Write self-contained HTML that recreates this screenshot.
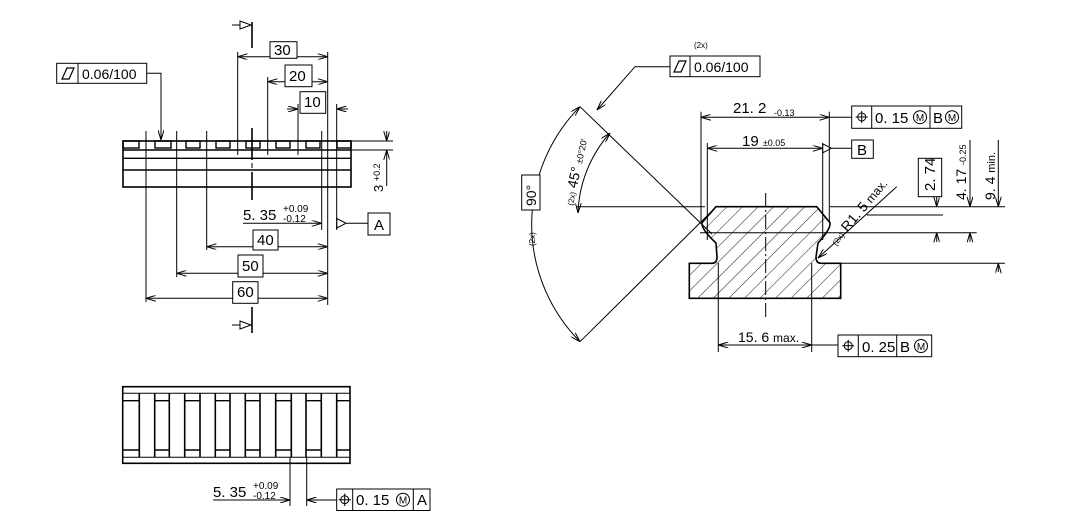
<!DOCTYPE html>
<html><head><meta charset="utf-8"><style>
html,body{margin:0;padding:0;background:#fff;}
svg{display:block;font-family:"Liberation Sans",sans-serif;}
</style></head><body>
<svg width="1065" height="530" viewBox="0 0 1065 530" xmlns="http://www.w3.org/2000/svg">
<defs>
<marker id="a" viewBox="0 0 10 6" refX="10" refY="3" markerWidth="10" markerHeight="6" orient="auto-start-reverse" markerUnits="userSpaceOnUse"><path d="M0,0 L10,3 L0,6" fill="none" stroke="#000" stroke-width="1"/></marker>
<pattern id="h" patternUnits="userSpaceOnUse" width="11" height="11" patternTransform="rotate(45)"><line x1="0" y1="0" x2="0" y2="11" stroke="#000" stroke-width="0.9"/></pattern>
</defs>
<g stroke="#000" fill="none" stroke-width="1">
<!-- LEFT TOP VIEW -->
<rect x="123" y="141" width="228" height="46" stroke-width="1.6"/>
<line x1="123" y1="150" x2="351" y2="150" stroke-width="1.4"/>
<line x1="123" y1="158.3" x2="351" y2="158.3" stroke-width="1.4"/>
<line x1="123" y1="170" x2="351" y2="170" stroke-width="1.4"/>
<g stroke-width="1.4">
<rect x="123" y="141" width="16" height="7"/><rect x="155" y="141" width="16" height="7"/><rect x="186" y="141" width="14" height="7"/><rect x="216" y="141" width="14" height="7"/><rect x="246" y="141" width="14" height="7"/><rect x="276" y="141" width="14" height="7"/><rect x="306" y="141" width="14" height="7"/><rect x="337" y="141" width="14" height="7"/>
</g>
<line x1="252" y1="22" x2="252" y2="48" stroke-width="1.6"/>
<line x1="252" y1="128" x2="252" y2="160" stroke-width="1.6"/>
<line x1="252" y1="163" x2="252" y2="168"/>
<line x1="252" y1="172" x2="252" y2="200" stroke-width="1.6"/>
<line x1="252" y1="307" x2="252" y2="333" stroke-width="1.6"/>
<path d="M232,25 L240,25 M240,21 L251,25 L240,29 Z"/>
<path d="M232,325 L240,325 M240,321 L251,325 L240,329 Z"/>
<line x1="146" y1="131" x2="146" y2="302"/>
<line x1="176.7" y1="131" x2="176.7" y2="277"/>
<line x1="206.7" y1="131" x2="206.7" y2="250"/>
<line x1="237.7" y1="52" x2="237.7" y2="155"/>
<line x1="267.7" y1="77" x2="267.7" y2="155"/>
<line x1="298" y1="104" x2="298" y2="155"/>
<line x1="327.7" y1="52" x2="327.7" y2="305"/>
<line x1="321.7" y1="131" x2="321.7" y2="230"/>
<line x1="336.7" y1="104" x2="336.7" y2="230"/>
<line x1="237.7" y1="56.7" x2="327.7" y2="56.7" marker-start="url(#a)" marker-end="url(#a)"/>
<line x1="267.7" y1="81.7" x2="327.7" y2="81.7" marker-start="url(#a)" marker-end="url(#a)"/>
<line x1="287" y1="109" x2="298" y2="109" marker-end="url(#a)"/>
<line x1="348" y1="109" x2="336.7" y2="109" marker-end="url(#a)"/>
<line x1="206.7" y1="246.7" x2="327.7" y2="246.7" marker-start="url(#a)" marker-end="url(#a)"/>
<line x1="176.7" y1="273.3" x2="327.7" y2="273.3" marker-start="url(#a)" marker-end="url(#a)"/>
<line x1="146" y1="298.3" x2="327.7" y2="298.3" marker-start="url(#a)" marker-end="url(#a)"/>
<line x1="243" y1="223.3" x2="321.7" y2="223.3" marker-end="url(#a)"/>
<path d="M336.7,218.5 L346,223.3 L336.7,228 Z M346,223.3 L368,223.3"/>
<rect x="368" y="213" width="22" height="22"/>
<rect x="270" y="41.7" width="27" height="16.6" fill="#fff"/>
<rect x="285" y="65" width="27" height="21.7" fill="#fff"/>
<rect x="300" y="91.7" width="25.7" height="21.6" fill="#fff"/>
<rect x="253" y="230" width="25" height="20" fill="#fff"/>
<rect x="238" y="255" width="25" height="22" fill="#fff"/>
<rect x="232.7" y="281.7" width="25.3" height="21.6" fill="#fff"/>
<line x1="351" y1="141" x2="393" y2="141"/><line x1="351" y1="150" x2="393" y2="150"/>
<line x1="386.7" y1="131" x2="386.7" y2="141" marker-end="url(#a)"/>
<line x1="386.7" y1="186" x2="386.7" y2="150" marker-end="url(#a)"/>
<rect x="56.7" y="63.3" width="90" height="20"/><line x1="78" y1="63.3" x2="78" y2="83.3"/>
<path d="M62,79 L67,68 L74,68 L69,79 Z" stroke-width="1.2"/>
<path d="M146.7,73.3 L161,73.3 L161,140" marker-end="url(#a)"/>
<!-- BOTTOM VIEW -->
<rect x="122.7" y="386.7" width="227.3" height="76.6" stroke-width="1.6"/>
<line x1="122.7" y1="393.3" x2="350" y2="393.3"/><line x1="122.7" y1="457.3" x2="350" y2="457.3"/>
<g stroke-width="1.6">
<line x1="139.3" y1="393.3" x2="139.3" y2="457.3"/>
<line x1="154.7" y1="393.3" x2="154.7" y2="457.3"/><line x1="169.3" y1="393.3" x2="169.3" y2="457.3"/>
<line x1="184.7" y1="393.3" x2="184.7" y2="457.3"/><line x1="200" y1="393.3" x2="200" y2="457.3"/>
<line x1="215.3" y1="393.3" x2="215.3" y2="457.3"/><line x1="230" y1="393.3" x2="230" y2="457.3"/>
<line x1="245.3" y1="393.3" x2="245.3" y2="457.3"/><line x1="260" y1="393.3" x2="260" y2="457.3"/>
<line x1="275.7" y1="393.3" x2="275.7" y2="457.3"/><line x1="291.3" y1="393.3" x2="291.3" y2="457.3"/>
<line x1="306" y1="393.3" x2="306" y2="457.3"/><line x1="321.3" y1="393.3" x2="321.3" y2="457.3"/>
<line x1="336.7" y1="393.3" x2="336.7" y2="457.3"/>
</g>
<g stroke-width="1.4">
<path d="M122.7,400.7 H139.3 M154.7,400.7 H169.3 M184.7,400.7 H200 M215.3,400.7 H230 M245.3,400.7 H260 M275.7,400.7 H291.3 M306,400.7 H321.3 M336.7,400.7 H350"/>
<path d="M122.7,450 H139.3 M154.7,450 H169.3 M184.7,450 H200 M215.3,450 H230 M245.3,450 H260 M275.7,450 H291.3 M306,450 H321.3 M336.7,450 H350"/>
</g>
<line x1="290" y1="457" x2="290" y2="506"/><line x1="306.7" y1="457" x2="306.7" y2="506"/>
<line x1="213" y1="500" x2="290" y2="500" marker-end="url(#a)"/>
<line x1="336.7" y1="500" x2="306.7" y2="500" marker-end="url(#a)"/>
<rect x="336.7" y="489" width="93.3" height="21.5"/><line x1="352.7" y1="489" x2="352.7" y2="510.5"/><line x1="413.3" y1="489" x2="413.3" y2="510.5"/>
<circle cx="344.7" cy="499.7" r="4"/><path d="M344.7,493.5 V506 M338.5,499.7 H351"/>
<circle cx="403" cy="499.7" r="6.5"/>
<!-- RIGHT VIEW -->
<path d="M716,206.7 L816.7,206.7 L830,222.7 Q831,229 818,243 L816,257 Q816,263.3 821,263.3 L840.7,263.3 L840.7,298.3 L689.3,298.3 L689.3,263.3 L712,263.3 Q717,263.3 717,257 L716,243 Q701,229 702,222.7 Z" fill="url(#h)" stroke-width="1.6"/>
<line x1="576.7" y1="206.7" x2="705" y2="206.7"/><line x1="830" y1="206.7" x2="1005" y2="206.7"/>
<line x1="866.7" y1="215" x2="943" y2="215"/>
<line x1="700" y1="232.7" x2="976.7" y2="232.7"/>
<line x1="840.7" y1="263.3" x2="1005" y2="263.3"/>
<line x1="765.7" y1="193" x2="765.7" y2="317" stroke-dasharray="14 3 2 3"/>
<line x1="701" y1="111.7" x2="701" y2="222"/><line x1="829.3" y1="111.7" x2="829.3" y2="222"/>
<line x1="701" y1="117.3" x2="829.3" y2="117.3" marker-start="url(#a)" marker-end="url(#a)"/>
<path d="M829.3,117.3 H851.7"/>
<rect x="851.7" y="106" width="110" height="22.3"/><line x1="871.7" y1="106" x2="871.7" y2="128.3"/><line x1="930" y1="106" x2="930" y2="128.3"/>
<circle cx="861.7" cy="117" r="4"/><path d="M861.7,111 V123 M855.7,117 H867.7"/>
<circle cx="920" cy="117.2" r="6.5"/><circle cx="952" cy="117.2" r="6.5"/>
<line x1="707.3" y1="143" x2="707.3" y2="240"/><line x1="822.7" y1="143" x2="822.7" y2="240"/>
<line x1="707.3" y1="148.3" x2="822.7" y2="148.3" marker-start="url(#a)" marker-end="url(#a)"/>
<path d="M822.7,143.8 L831.5,148.3 L822.7,152.8 Z M831.5,148.3 H851.7"/>
<rect x="851.7" y="140" width="21.6" height="18.3"/>
<rect x="918.3" y="158.3" width="23.4" height="38.4"/>
<line x1="936.7" y1="196.7" x2="936.7" y2="206.7" marker-end="url(#a)"/>
<line x1="936.7" y1="242" x2="936.7" y2="232.7" marker-end="url(#a)"/>
<line x1="970" y1="140" x2="970" y2="206.7" marker-end="url(#a)"/>
<line x1="970" y1="242" x2="970" y2="232.7" marker-end="url(#a)"/>
<line x1="998.3" y1="140" x2="998.3" y2="206.7" marker-end="url(#a)"/>
<line x1="998.3" y1="272" x2="998.3" y2="263.3" marker-end="url(#a)"/>
<line x1="896.7" y1="186.7" x2="818" y2="258" marker-end="url(#a)"/>
<line x1="718.3" y1="263" x2="718.3" y2="352"/><line x1="811.7" y1="263" x2="811.7" y2="352"/>
<line x1="718.3" y1="345" x2="811.7" y2="345" marker-start="url(#a)" marker-end="url(#a)"/>
<path d="M811.7,345 H838"/>
<rect x="838" y="335" width="93.7" height="21.7"/><line x1="858.3" y1="335" x2="858.3" y2="356.7"/><line x1="896.7" y1="335" x2="896.7" y2="356.7"/>
<circle cx="848.2" cy="345.8" r="4"/><path d="M848.2,339.8 V351.8 M842.2,345.8 H854.2"/>
<circle cx="921" cy="346" r="6.5"/>
<rect x="670" y="56" width="90" height="20.7"/><line x1="690" y1="56" x2="690" y2="76.7"/>
<path d="M674,72 L679,61 L686,61 L681,72 Z" stroke-width="1.2"/>
<path d="M670,66.7 H635 L597,110" marker-end="url(#a)"/>
<line x1="580" y1="106.7" x2="712" y2="234"/>
<line x1="580" y1="341.7" x2="712" y2="211"/>
<path d="M580,106.7 A167,167 0 0 0 580,341.7" marker-start="url(#a)" marker-end="url(#a)"/>
<path d="M610,133 A127,127 0 0 0 578,213" marker-start="url(#a)" marker-end="url(#a)"/>
<rect x="521.7" y="175" width="18.3" height="35" fill="#fff"/>
</g>
<g fill="#000" font-size="15">
<text x="274" y="55">30</text><text x="289" y="81">20</text><text x="304" y="107">10</text>
<text x="257" y="245">40</text><text x="242" y="271">50</text><text x="237" y="297">60</text>
<text x="243" y="220">5. 35</text><text x="283" y="212" font-size="10">+0.09</text><text x="283" y="222" font-size="10">-0.12</text>
<text x="374" y="230">A</text>
<text x="82" y="79" font-size="14">0.06/100</text>
<text transform="translate(383,192) rotate(-90)" font-size="13">3 <tspan font-size="9" dy="-3">+0.2</tspan></text>
<text x="213" y="497">5. 35</text><text x="253" y="489" font-size="10">+0.09</text><text x="253" y="499" font-size="10">-0.12</text>
<text x="356" y="505">0. 15</text><text x="403" y="503.5" font-size="10" text-anchor="middle">M</text><text x="417" y="505">A</text>
<text x="694" y="48" font-size="8">(2x)</text>
<text x="694" y="72" font-size="14">0.06/100</text>
<text x="733" y="113">21. 2</text><text x="774" y="116" font-size="9">-0.13</text>
<text x="875" y="123">0. 15</text><text x="920" y="121" font-size="10" text-anchor="middle">M</text><text x="933" y="123">B</text><text x="952" y="121" font-size="10" text-anchor="middle">M</text>
<text x="742" y="146">19 <tspan font-size="9">±0.05</tspan></text>
<text x="857" y="155">B</text>
<text transform="translate(935,191) rotate(-90)">2. 74</text>
<text transform="translate(966,200) rotate(-90)" font-size="14">4. 17 <tspan font-size="9">-0.25</tspan></text>
<text transform="translate(995,200) rotate(-90)" font-size="14">9. 4 <tspan font-size="11">min.</tspan></text>
<text transform="translate(836,246) rotate(-50)" font-size="14"><tspan font-size="8">(2x)</tspan> R1. 5 <tspan font-size="12">max.</tspan></text>
<text x="738" y="342" font-size="14">15. 6 <tspan font-size="12">max.</tspan></text>
<text x="862" y="352">0. 25</text><text x="900" y="352">B</text><text x="921" y="350" font-size="10" text-anchor="middle">M</text>
<text transform="translate(536,206) rotate(-90)" font-size="14">90°</text>
<text transform="translate(535,246) rotate(-90)" font-size="8">(2x)</text>
<text transform="translate(573,206) rotate(-78)" font-size="14"><tspan font-size="8">(2x)</tspan> 45° <tspan font-size="9">±0°20'</tspan></text>
</g>
</svg>
</body></html>
